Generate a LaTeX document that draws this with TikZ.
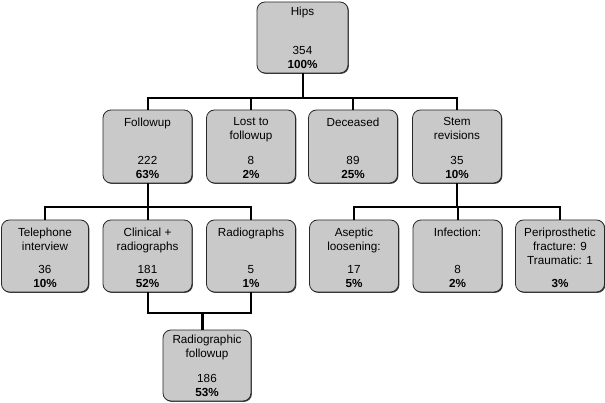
\documentclass[tikz,border=0pt]{standalone}
\usepackage{fontspec}
\setmainfont{Liberation Sans}
\usetikzlibrary{shadows}
\definecolor{boxgray}{RGB}{201,201,201}
\definecolor{edgegray}{RGB}{40,40,40}
\tikzset{
  box/.style={draw=edgegray, fill=boxgray, rounded corners=8pt, line width=0.8pt,
    minimum width=89pt, minimum height=73pt, inner sep=0pt,
    drop shadow={shadow xshift=0.9pt, shadow yshift=-0.9pt, fill=black!75, opacity=1}},
  ttl/.style={anchor=north, align=center, inner sep=0pt, font=\fontsize{11.7}{14}\selectfont},
  num/.style={anchor=south, align=center, inner sep=0pt, font=\fontsize{11.7}{14}\selectfont},
  conn/.style={line width=2pt, black},
}
\begin{document}
\begin{tikzpicture}[x=1pt,y=-1pt]
\useasboundingbox (0,0) rectangle (605,403);
% level 1
\node[box, minimum width=91pt, minimum height=71pt] (hips) at (302.5,37.5) {};
\node[ttl] (hipsT) at ([yshift=-5pt]hips.north) {Hips};
\node[num] (hipsN) at ([yshift=5pt]hips.south) {354\\\textbf{100\%}};
% level 2
\node[box] (fu) at (147.5,146.5) {};
\node[box] (lost) at (251,146.5) {};
\node[box] (dec) at (353,146.5) {};
\node[box] (stem) at (457,146.5) {};
\node[ttl] (fuT) at ([yshift=-8pt]fu.north) {Followup};
\node[num] (fuN) at ([yshift=5pt]fu.south) {222\\\textbf{63\%}};
\node[ttl] (lostT) at ([yshift=-8pt]lost.north) {Lost to\\followup};
\node[num] (lostN) at ([yshift=5pt]lost.south) {8\\\textbf{2\%}};
\node[ttl] (decT) at ([yshift=-8pt]dec.north) {Deceased};
\node[num] (decN) at ([yshift=5pt]dec.south) {89\\\textbf{25\%}};
\node[ttl] (stemT) at ([yshift=-8pt]stem.north) {Stem\\revisions};
\node[num] (stemN) at ([yshift=5pt]stem.south) {35\\\textbf{10\%}};
% level 3
\node[box, minimum width=87pt, minimum height=72pt] (tel) at (45,256) {};
\node[box, minimum height=72pt] (clin) at (147.5,256) {};
\node[box, minimum height=72pt] (rad) at (251,256) {};
\node[box, minimum height=72pt] (asep) at (354,256) {};
\node[box, minimum height=72pt] (inf) at (457.5,256) {};
\node[box, minimum height=72pt] (peri) at (560,256) {};
\node[ttl] (telT) at ([yshift=-8pt]tel.north) {Telephone\\interview};
\node[num] (telN) at ([yshift=5pt]tel.south) {36\\\textbf{10\%}};
\node[ttl] (clinT) at ([yshift=-8pt]clin.north) {Clinical +\\radiographs};
\node[num] (clinN) at ([yshift=5pt]clin.south) {181\\\textbf{52\%}};
\node[ttl] (radT) at ([yshift=-8pt]rad.north) {Radiographs};
\node[num] (radN) at ([yshift=5pt]rad.south) {5\\\textbf{1\%}};
\node[ttl] (asepT) at ([yshift=-8pt]asep.north) {Aseptic\\loosening:};
\node[num] (asepN) at ([yshift=5pt]asep.south) {17\\\textbf{5\%}};
\node[ttl] (infT) at ([yshift=-8pt]inf.north) {Infection:};
\node[num] (infN) at ([yshift=5pt]inf.south) {8\\\textbf{2\%}};
\node[ttl] (periT) at ([yshift=-8pt]peri.north) {Periprosthetic\\fracture: 9\\Traumatic: 1};
\node[num] (periN) at ([yshift=5pt]peri.south) {\textbf{3\%}};
% level 4
\node[box, minimum width=88pt, minimum height=71pt] (rf) at (207,365.5) {};
\node[ttl] (rfT) at ([yshift=-5pt]rf.north) {Radiographic\\followup};
\node[num] (rfN) at ([yshift=5pt]rf.south) {186\\\textbf{53\%}};
% connectors
\coordinate (j1) at (302.5,98);
\coordinate (j2) at (147.5,207);
\coordinate (j3) at (457,207);
\coordinate (j4) at (202,313);
\draw[conn] (hips.south) -- (j1);
\draw[conn] (fu.north) |- (j1) -| (stem.north);
\draw[conn] (lost.north) |- (j1);
\draw[conn] (dec.north) |- (j1);
\draw[conn] (fu.south) -- (j2);
\draw[conn] (tel.north) |- (j2) -| (rad.north);
\draw[conn] (clin.north) -- (j2);
\draw[conn] (stem.south) -- (j3);
\draw[conn] (asep.north) |- (j3) -| (peri.north);
\draw[conn] (inf.north) -- (inf.north |- j3);
\draw[conn] (clin.south) |- (j4) -| (rad.south);
\draw[conn, line width=3pt] (j4) -- (j4 |- rf.north);
\end{tikzpicture}
\end{document}
